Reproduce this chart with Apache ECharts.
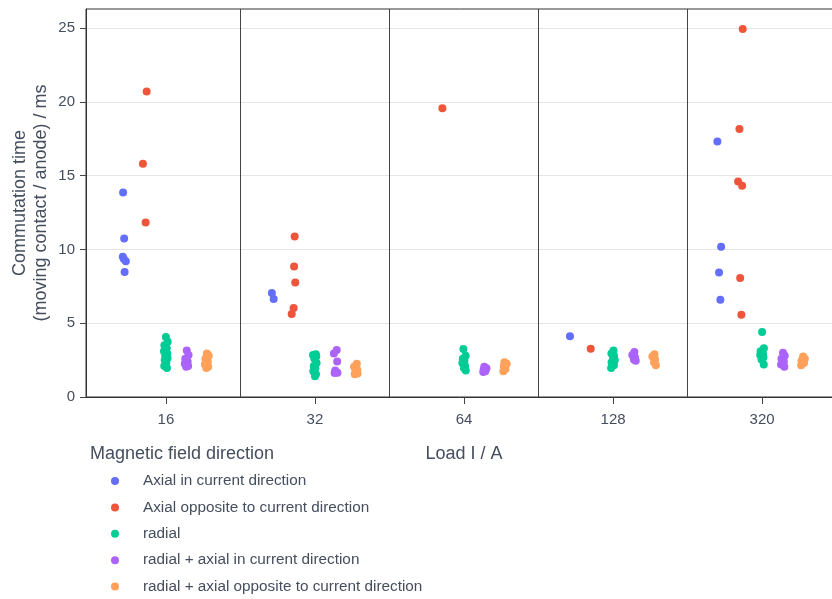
<!DOCTYPE html>
<html>
<head>
<meta charset="utf-8">
<script src="https://cdn.jsdelivr.net/npm/echarts@6/dist/echarts.min.js"></script>
<style>
  html, body { margin: 0; padding: 0; background: #fff; }
  #chart { width: 832px; height: 599px; }
</style>
</head>
<body>
<div id="chart"></div>
<script>
// Load categories on the x axis
const loads = ['16', '32', '64', '128', '320'];
const yTicks = [0, 5, 10, 15, 20, 25];
const dividers = [0.5, 1.5, 2.5, 3.5];

const seriesNames = [
  'Axial in current direction',
  'Axial opposite to current direction',
  'radial',
  'radial + axial in current direction',
  'radial + axial opposite to current direction'
];
const colors = ['#636efa', '#EF553B', '#00cc96', '#ab63fa', '#FFA15A'];

// Commutation time in ms, one inner list per load
const axialWith = [
  [13.86, 10.75, 9.5, 9.35, 9.2, 8.47],
  [7.05, 6.64],
  [],
  [4.11],
  [17.32, 10.18, 8.44, 6.59]
];
const axialOpposite = [
  [20.7, 15.81, 11.83],
  [10.88, 8.85, 7.76, 6.03, 5.62],
  [19.58],
  [3.27],
  [24.95, 18.16, 14.6, 14.32, 8.06, 5.58]
];
const radial = [
  [4.07, 3.75, 3.5, 3.3, 3.1, 2.95, 2.8, 2.65, 2.5, 2.3, 2.1, 1.96],
  [2.9, 2.85, 2.75, 2.6, 2.3, 2.1, 1.95, 1.75, 1.55, 1.41],
  [3.25, 2.8, 2.6, 2.45, 2.3, 2.1, 1.95, 1.8],
  [3.15, 2.95, 2.8, 2.65, 2.5, 2.35, 2.15, 1.97],
  [4.4, 3.3, 3.1, 2.95, 2.85, 2.7, 2.55, 2.2]
];
const radialAxialWith = [
  [3.15, 2.85, 2.6, 2.4, 2.25, 2.1, 2.05],
  [3.19, 2.95, 2.4, 1.8, 1.65, 1.63],
  [2.05, 1.95, 1.85, 1.75, 1.7],
  [3.05, 2.85, 2.7, 2.55, 2.45],
  [3.0, 2.8, 2.6, 2.4, 2.2, 2.05]
];
const radialAxialOpposite = [
  [2.95, 2.8, 2.6, 2.4, 2.2, 2.05, 1.96],
  [2.25, 2.05, 1.85, 1.7, 1.6, 1.55],
  [2.35, 2.25, 2.1, 1.9, 1.75],
  [2.9, 2.75, 2.55, 2.35, 2.15],
  [2.75, 2.6, 2.45, 2.3, 2.15]
];

// Horizontal strip jitter (in category widths) for the sparse axial series
const axialWithJitter = [
  [-0.007, 0, -0.009, -0.002, 0.011, 0.003],
  [-0.009, 0.003],
  [],
  [-0.009],
  [-0.02, 0.005, -0.009, 0]
];
const axialOppositeJitter = [
  [0.011, -0.014, 0.004],
  [0.004, 0, 0.008, -0.003, -0.016],
  [-0.005],
  [-0.01],
  [0.01, -0.012, -0.021, 0.006, -0.007, 0.001]
];
// Jitter cycle used for the dense radial clusters
const clusterJitter = [0, 0.012, -0.01, 0.006, -0.013, 0.009, -0.004, 0.011, -0.008, 0.003, -0.011, 0.007];

const valueSets = [axialWith, axialOpposite, radial, radialAxialWith, radialAxialOpposite];
const jitterSets = [axialWithJitter, axialOppositeJitter, null, null, null];
const groupOffsets = [-0.28, -0.14, 0, 0.14, 0.275];

const textColor = '#444e5e';
const fontFamily = '"Liberation Sans", Arial, sans-serif';

const scatterSeries = valueSets.map((sets, s) => {
  const data = [];
  sets.forEach((vals, k) => {
    vals.forEach((v, i) => {
      const j = jitterSets[s] ? jitterSets[s][k][i] : clusterJitter[(i + k * 3) % clusterJitter.length];
      data.push([k + groupOffsets[s] + j, v]);
    });
  });
  return {
    name: seriesNames[s],
    type: 'scatter',
    symbol: 'circle',
    symbolSize: 8,
    itemStyle: { color: colors[s], opacity: 1 },
    emphasis: { disabled: true },
    data: data,
    z: 3 + s
  };
});

// Vertical separators between load groups
const dividerSeries = {
  name: 'dividers',
  type: 'scatter',
  data: [],
  silent: true,
  markLine: {
    silent: true,
    symbol: ['none', 'none'],
    label: { show: false },
    lineStyle: { color: '#444', width: 1, type: 'solid' },
    emphasis: { disabled: true },
    data: dividers.map(x => ({ xAxis: x }))
  }
};

const chart = echarts.init(document.getElementById('chart'), null, { renderer: 'canvas' });
chart.setOption({
  animation: false,
  backgroundColor: '#fff',
  textStyle: { fontFamily: fontFamily },
  title: {
    text: 'Magnetic field direction',
    left: 90,
    top: 445,
    padding: 0,
    textStyle: { fontSize: 18, fontWeight: 'normal', color: textColor, fontFamily: fontFamily }
  },
  legend: {
    data: seriesNames,
    orient: 'vertical',
    left: 111,
    top: 473,
    padding: 0,
    icon: 'circle',
    itemWidth: 46,
    itemHeight: 8,
    itemGap: 10.4,
    textStyle: { fontSize: 15.3, lineHeight: 16, color: textColor, fontFamily: fontFamily },
    selectedMode: false
  },
  grid: {
    left: 86,
    right: -10,
    top: 9,
    bottom: 202,
    containLabel: false,
    outerBoundsMode: 'none',
    show: true,
    borderColor: '#333',
    borderWidth: 1,
    backgroundColor: 'transparent'
  },
  xAxis: {
    type: 'value',
    min: -0.536,
    max: 4.536,
    name: 'Load I / A',
    nameLocation: 'middle',
    nameGap: 48,
    nameMoveOverlap: false,
    nameTextStyle: { fontSize: 18, color: textColor, fontFamily: fontFamily },
    axisLine: { show: true, onZero: false, lineStyle: { color: '#333', width: 1 } },
    axisTick: { show: true, inside: false, length: 7, customValues: [0, 1, 2, 3, 4], lineStyle: { color: '#444' } },
    axisLabel: {
      customValues: [0, 1, 2, 3, 4],
      formatter: v => loads[Math.round(v)],
      fontSize: 15,
      color: textColor,
      margin: 15
    },
    splitLine: { show: false }
  },
  yAxis: {
    type: 'value',
    min: 0,
    max: 26.3,
    interval: 5,
    name: 'Commutation time\n(moving contact / anode) / ms',
    nameLocation: 'middle',
    nameRotate: 90,
    nameGap: 34,
    nameMoveOverlap: false,
    nameTextStyle: { fontSize: 18, lineHeight: 21, color: textColor, fontFamily: fontFamily, align: 'center' },
    axisLine: { show: true, onZero: false, lineStyle: { color: '#333', width: 1 } },
    axisTick: { show: true, inside: false, length: 6, customValues: yTicks, lineStyle: { color: '#444' } },
    axisLabel: { customValues: yTicks, fontSize: 15, color: textColor, margin: 11 },
    splitLine: { show: true, lineStyle: { color: '#e6e6e6', width: 1 } }
  },
  series: [dividerSeries].concat(scatterSeries)
});
</script>
</body>
</html>
